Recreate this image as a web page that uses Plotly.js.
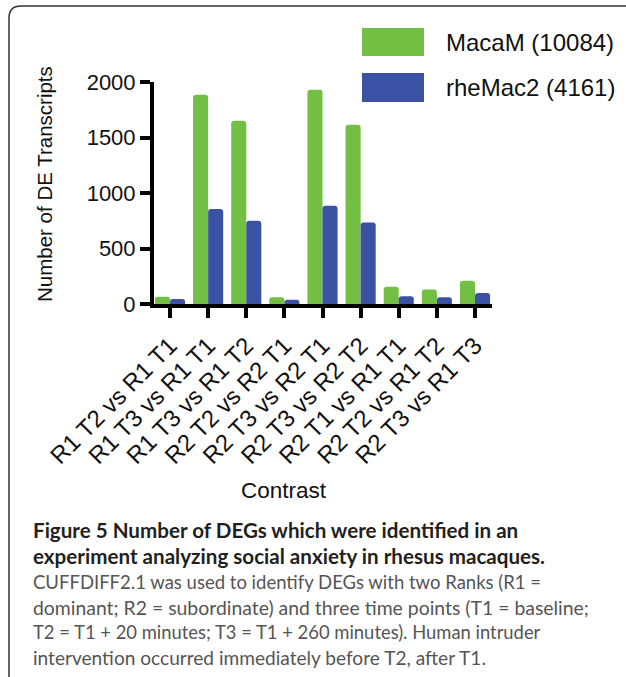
<!DOCTYPE html>
<html>
<head>
<meta charset="utf-8">
<script src="https://cdn.plot.ly/plotly-3.0.1.min.js"></script>
<style>
  html, body { margin: 0; padding: 0; background: #fff; }
  #chart { width: 626px; height: 677px; }
</style>
</head>
<body>
<div id="chart"></div>
<script>
// ---- data ----
const categories = [
  "R1 T2 vs R1 T1", "R1 T3 vs R1 T1", "R1 T3 vs R1 T2",
  "R2 T2 vs R2 T1", "R2 T3 vs R2 T1", "R2 T3 vs R2 T2",
  "R2 T1 vs R1 T1", "R2 T2 vs R1 T2", "R2 T3 vs R1 T3"
];
const seriesNames = ["MacaM (10084)", "rheMac2 (4161)"];
const macaM   = [65, 1885, 1650, 60, 1930, 1615, 155, 130, 210];
const rheMac2 = [45, 855, 750, 38, 885, 735, 70, 60, 100];
const yTickVals = [0, 500, 1000, 1500, 2000];
const yTitle = "Number of DE Transcripts";
const xTitle = "Contrast";
const captionBold = [
  "Figure 5 Number of DEGs which were identified in an",
  "experiment analyzing social anxiety in rhesus macaques."
];
const captionText = [
  "CUFFDIFF2.1 was used to identify DEGs with two Ranks (R1 =",
  "dominant; R2 = subordinate) and three time points (T1 = baseline;",
  "T2 = T1 + 20 minutes; T3 = T1 + 260 minutes). Human intruder",
  "intervention occurred immediately before T2, after T1."
];

// ---- layout geometry ----
const W = 626, H = 677;
const M = {l: 154, r: 134, t: 82, b: 373};
const PW = W - M.l - M.r, PH = H - M.t - M.b;
const px = x => (x - M.l) / PW;
const py = y => 1 - (y - M.t) / PH;

const green = "#72bf44", blue = "#3b51a3";
const chartFont = "Liberation Sans, Arial, sans-serif";
const capFont = "Lato, Open Sans, sans-serif";

const traces = [
  {type: "bar", x: categories, y: macaM, name: seriesNames[0],
   marker: {color: green, cornerradius: 3}, showlegend: false},
  {type: "bar", x: categories, y: rheMac2, name: seriesNames[1],
   marker: {color: blue, cornerradius: 3}, showlegend: false}
];

const shapes = [
  {type: "path", xref: "paper", yref: "paper",
   path: "M" + px(9) + "," + py(680) + " L" + px(9) + "," + py(18) +
         " Q" + px(9) + "," + py(6) + " " + px(21) + "," + py(6) + " L" + px(640) + "," + py(6),
   line: {color: "#333", width: 1.5}},
  {type: "rect", xref: "paper", yref: "paper", x0: px(362), x1: px(424), y0: py(28), y1: py(56),
   fillcolor: green, line: {width: 0}},
  {type: "rect", xref: "paper", yref: "paper", x0: px(362), x1: px(424), y0: py(73), y1: py(102),
   fillcolor: blue, line: {width: 0}}
];

const annotations = [
  {xref: "paper", yref: "paper", x: px(444), y: py(42), xanchor: "left", yanchor: "middle",
   text: seriesNames[0], showarrow: false, font: {family: chartFont, size: 24, color: "#111"}},
  {xref: "paper", yref: "paper", x: px(444), y: py(87), xanchor: "left", yanchor: "middle",
   text: seriesNames[1], showarrow: false, font: {family: chartFont, size: 24, color: "#111"}},
  {xref: "paper", yref: "paper", x: px(44), y: py(184), xanchor: "center", yanchor: "middle",
   text: yTitle, textangle: -90, showarrow: false, font: {family: chartFont, size: 20.5, color: "#111"}},
  {xref: "paper", yref: "paper", x: px(284), y: py(490), xanchor: "center", yanchor: "middle",
   text: xTitle, showarrow: false, font: {family: chartFont, size: 22.5, color: "#111"}}
];
const capY = [530, 556, 582, 607, 632, 657];
const capSize = [18.5, 19.4, 18.4, 19.1];
captionBold.forEach((t, i) => annotations.push({
  xref: "paper", yref: "paper", x: px(31), y: py(capY[i]), xanchor: "left", yanchor: "middle",
  text: "<b>" + t + "</b>", showarrow: false, font: {family: capFont, size: 20.6, color: "#231f20"}
}));
captionText.forEach((t, i) => annotations.push({
  xref: "paper", yref: "paper", x: px(31), y: py(capY[i + 2]), xanchor: "left", yanchor: "middle",
  text: t, showarrow: false, font: {family: capFont, size: capSize[i], color: "#555"}
}));

const layout = {
  width: W, height: H,
  margin: M,
  paper_bgcolor: "#fff", plot_bgcolor: "#fff",
  barmode: "group", bargap: 0.21, bargroupgap: 0,
  font: {family: chartFont, color: "#111"},
  xaxis: {
    type: "category", range: [-0.42, 8.446],
    showline: true, linecolor: "#000", linewidth: 4,
    ticks: "outside", ticklen: 10, tickwidth: 4, tickcolor: "#000",
    tickangle: -45, ticklabelstandoff: 4,
    tickfont: {family: chartFont, size: 24, color: "#111"},
    showgrid: false, zeroline: false, automargin: false, fixedrange: true
  },
  yaxis: {
    range: [0, 2000], tickvals: yTickVals,
    showline: true, linecolor: "#000", linewidth: 4,
    ticks: "outside", ticklen: 10, tickwidth: 4, tickcolor: "#000",
    tickfont: {family: chartFont, size: 22, color: "#111"},
    showgrid: false, zeroline: false, automargin: false, fixedrange: true
  },
  shapes: shapes,
  annotations: annotations
};

Plotly.newPlot("chart", traces, layout, {displayModeBar: false, staticPlot: true});
</script>
</body>
</html>
